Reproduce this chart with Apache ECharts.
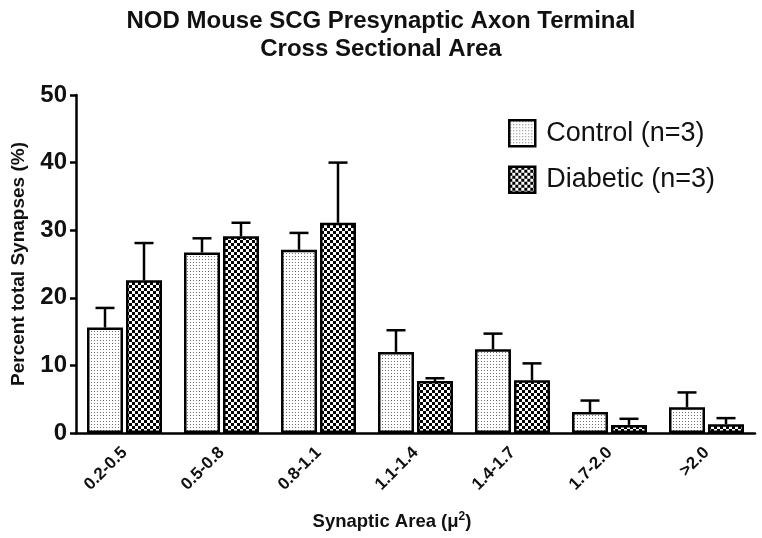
<!DOCTYPE html>
<html><head><meta charset="utf-8">
<script src="https://cdn.jsdelivr.net/npm/echarts@6/dist/echarts.min.js"></script>
<style>html,body{margin:0;padding:0;background:#fff}#c{width:762px;height:538px}</style>
</head><body><div id="c"></div>
<script>
const categories = ['0.2-0.5','0.5-0.8','0.8-1.1','1.1-1.4','1.4-1.7','1.7-2.0','>2.0'];
const controlValues = [15.6, 26.7, 27.1, 12.0, 12.4, 3.1, 3.8];
const controlErr = [2.9, 2.1, 2.5, 3.2, 2.3, 1.7, 2.2];
const diabeticValues = [22.6, 29.1, 31.1, 7.7, 7.8, 1.2, 1.3];
const diabeticErr = [5.5, 2.0, 8.9, 0.4, 2.5, 0.9, 0.9];
const yTicks = [0, 10, 20, 30, 40, 50];

function dotPattern(){
  const c = document.createElement('canvas'); c.width = 3; c.height = 3;
  const x = c.getContext('2d'); x.fillStyle = '#fff'; x.fillRect(0,0,3,3);
  x.fillStyle = '#707070'; x.fillRect(1,1,1,1); return c;
}
function checkPattern(){
  const c = document.createElement('canvas'); c.width = 6; c.height = 6;
  const x = c.getContext('2d'); x.fillStyle = '#fff'; x.fillRect(0,0,6,6);
  x.fillStyle = '#000'; x.fillRect(0,0,3,3); x.fillRect(3,3,3,3); return c;
}
const dotFill = {image: dotPattern(), repeat: 'repeat'};
const checkFill = {image: checkPattern(), repeat: 'repeat'};

const BAR_W = 36, BAR_GAP = 3;
function errSeries(name, vals, errs, side){
  return {
    type: 'custom', name: name, z: 5, silent: true,
    data: vals.map((v,i)=>[i, v, errs[i]]),
    renderItem: function(params, api){
      const i = api.value(0), v = api.value(1), e = api.value(2);
      const off = side * (BAR_W + BAR_GAP) / 2;
      const b = api.coord([i, v]); const t = api.coord([i, v + e]);
      const x = b[0] + off;
      const style = {stroke: '#000', lineWidth: 2.5};
      return {type: 'group', children: [
        {type: 'line', shape: {x1: x, y1: b[1], x2: x, y2: t[1]}, style: style},
        {type: 'line', shape: {x1: x - 9.5, y1: t[1], x2: x + 9.5, y2: t[1]}, style: style}
      ]};
    }
  };
}
const FONT = 'Liberation Sans, Arial, Helvetica, sans-serif';
const chart = echarts.init(document.getElementById('c'));
chart.setOption({
  backgroundColor: '#fff',
  animation: false,
  textStyle: {fontFamily: FONT},
  title: {
    text: 'NOD Mouse SCG Presynaptic Axon Terminal\nCross Sectional Area',
    left: 'center', top: 7, padding: [0, 0, 0, 14],
    textStyle: {fontFamily: FONT, fontWeight: 'bold', fontSize: 24, lineHeight: 28, color: '#111'}
  },
  legend: {
    orient: 'vertical', left: 508, top: 119, padding: 0, itemWidth: 26, itemHeight: 26, itemGap: 18,
    icon: 'rect',
    data: ['Control (n=3)', 'Diabetic (n=3)'],
    itemStyle: {borderColor: '#000', borderWidth: 2.5},
    textStyle: {fontFamily: FONT, fontSize: 27, color: '#111', padding: [0,0,0,6]}
  },
  grid: {left: 76, right: 7, top: 95, bottom: 105, containLabel: false},
  xAxis: {
    type: 'category', data: categories,
    name: 'Synaptic Area (μ{s|2})', nameLocation: 'middle', nameGap: 78,
    nameTextStyle: {fontFamily: FONT, fontWeight: 'bold', fontSize: 18.5, color: '#111', padding: [0, 47, 0, 0],
      rich: {s: {fontFamily: FONT, fontSize: 12, fontWeight: 'bold', verticalAlign: 'top', padding: [0,0,10,0], color: '#111'}}},
    axisLine: {lineStyle: {color: '#000', width: 2.5}},
    axisTick: {alignWithLabel: true, length: 7, lineStyle: {color: '#000', width: 2.5}},
    axisLabel: {rotate: 45, fontFamily: FONT, fontWeight: 'bold', fontSize: 17, color: '#111', margin: 17}
  },
  yAxis: {
    type: 'value', min: yTicks[0], max: yTicks[yTicks.length-1], interval: 10,
    name: 'Percent total Synapses (%)', nameLocation: 'middle', nameGap: 48,
    nameTextStyle: {fontFamily: FONT, fontWeight: 'bold', fontSize: 19, color: '#111'},
    axisLine: {show: true, lineStyle: {color: '#000', width: 2.5}},
    axisTick: {show: true, length: 6, lineStyle: {color: '#000', width: 2.5}},
    axisLabel: {fontFamily: FONT, fontWeight: 'bold', fontSize: 24, color: '#111', margin: 9},
    splitLine: {show: false}
  },
  series: [
    {type: 'bar', name: 'Control (n=3)', data: controlValues, barWidth: BAR_W, barGap: (BAR_GAP / BAR_W * 100) + '%',
      itemStyle: {color: dotFill, borderColor: '#000', borderWidth: 2.5}},
    {type: 'bar', name: 'Diabetic (n=3)', data: diabeticValues, barWidth: BAR_W,
      itemStyle: {color: checkFill, borderColor: '#000', borderWidth: 2.5}},
    errSeries('errC', controlValues, controlErr, -1),
    errSeries('errD', diabeticValues, diabeticErr, 1)
  ]
});
</script></body></html>
